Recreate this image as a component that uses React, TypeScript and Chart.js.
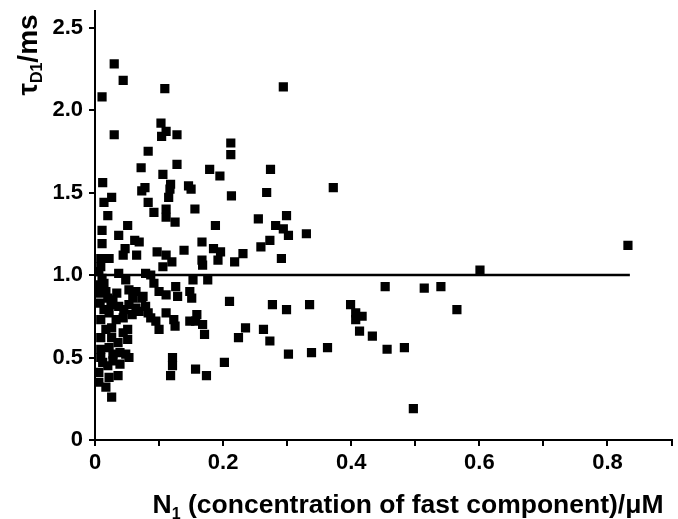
import React, { useEffect, useRef } from "react";
import { Chart, registerables } from "chart.js";

Chart.register(...registerables);

// N1 (µM) of each measurement
const N1_VALUES = [
  0.030, 0.044, 0.011, 0.109, 0.294, 0.030, 0.103, 0.111, 0.104, 0.128,
  0.083, 0.212, 0.212, 0.072, 0.128, 0.106, 0.179, 0.195, 0.274, 0.012,
  0.014, 0.026, 0.020, 0.078, 0.073, 0.083, 0.118, 0.117, 0.115, 0.146,
  0.150, 0.156, 0.213, 0.268, 0.372, 0.092, 0.111, 0.111, 0.125, 0.188,
  0.255, 0.299, 0.282, 0.294, 0.302, 0.330, 0.011, 0.011, 0.051, 0.037,
  0.047, 0.062, 0.065, 0.044, 0.167, 0.273, 0.259, 0.185, 0.196, 0.192,
  0.231, 0.218, 0.291, 0.167, 0.168, 0.009, 0.022, 0.097, 0.111, 0.120,
  0.139, 0.106, 0.832, 0.601, 0.009, 0.006, 0.011, 0.014, 0.017, 0.020,
  0.025, 0.005, 0.008, 0.037, 0.048, 0.053, 0.059, 0.034, 0.037, 0.045,
  0.053, 0.064, 0.069, 0.064, 0.075, 0.079, 0.087, 0.092, 0.100, 0.111,
  0.126, 0.129, 0.148, 0.151, 0.153, 0.176,
  0.079, 0.083, 0.087, 0.095, 0.100, 0.111, 0.123, 0.073,
  0.159, 0.157, 0.168, 0.171, 0.148, 0.210, 0.277, 0.335, 0.299, 0.235,
  0.224, 0.263, 0.273, 0.302, 0.338, 0.363, 0.202, 0.157, 0.174, 0.118,
  0.121, 0.121, 0.453, 0.514, 0.540, 0.399, 0.407, 0.407, 0.417, 0.565,
  0.413, 0.433, 0.456, 0.483, 0.497,
  0.009, 0.033, 0.044, 0.051, 0.009, 0.009, 0.009, 0.012, 0.026, 0.036,
  0.022, 0.028, 0.039, 0.048, 0.053, 0.051, 0.006, 0.006, 0.022, 0.036,
  0.017, 0.026, 0.020, 0.026, 0.017, 0.069, 0.028, 0.039, 0.044, 0.058,
  0.125, 0.008, 0.014, 0.022, 0.028,
];

// tauD1 (ms) of each measurement
const TAU_VALUES = [
  2.28, 2.18, 2.08, 2.13, 2.14, 1.85, 1.92, 1.87, 1.84, 1.85,
  1.75, 1.80, 1.73, 1.65, 1.67, 1.61, 1.64, 1.60, 1.64, 1.56,
  1.44, 1.47, 1.36, 1.53, 1.51, 1.44, 1.55, 1.52, 1.47, 1.54,
  1.52, 1.40, 1.48, 1.50, 1.53, 1.38, 1.40, 1.35, 1.32, 1.30,
  1.34, 1.36, 1.30, 1.28, 1.24, 1.25, 1.27, 1.19, 1.30, 1.24,
  1.16, 1.21, 1.12, 1.12, 1.20, 1.21, 1.17, 1.16, 1.14, 1.09,
  1.13, 1.08, 1.10, 1.09, 1.06, 1.10, 1.10, 1.14, 1.12, 1.08,
  1.15, 1.05, 1.18, 1.03, 1.05, 1.02, 0.98, 0.95, 0.90, 0.86,
  0.82, 0.94, 0.89, 1.01, 0.97, 0.91, 0.86, 0.89, 0.81, 0.79,
  0.82, 0.80, 0.78, 0.90, 0.87, 1.01, 1.00, 0.95, 0.90, 0.88,
  0.93, 0.87, 0.90, 0.86, 0.97, 0.97,
  0.81, 0.77, 0.74, 0.72, 0.67, 0.77, 0.73, 0.86,
  0.76, 0.72, 0.70, 0.64, 0.72, 0.84, 0.82, 0.82, 0.79, 0.68,
  0.62, 0.67, 0.60, 0.52, 0.53, 0.56, 0.47, 0.43, 0.39, 0.39,
  0.50, 0.45, 0.93, 0.92, 0.93, 0.82, 0.77, 0.73, 0.75, 0.79,
  0.66, 0.63, 0.55, 0.56, 0.19,
  0.73, 0.73, 0.74, 0.67, 0.62, 0.55, 0.50, 0.47, 0.62, 0.59,
  0.56, 0.52, 0.53, 0.52, 0.50, 0.61, 0.41, 0.35, 0.38, 0.39,
  0.32, 0.26, 0.45, 0.68, 0.67, 1.20, 0.48, 0.46, 0.65, 0.76,
  0.69, 0.83, 0.79, 0.77, 0.85,
];

// horizontal reference line
const LINE_X = [0, 0.835];
const LINE_Y = [1.0, 1.0];

// axes
const X_MIN = 0;
const X_MAX = 0.9;
const X_STEP = 0.1;
const X_LABELED_TICKS = ["0", "0.2", "0.4", "0.6", "0.8"];
const Y_MIN = 0;
const Y_MAX = 2.6;
const Y_STEP = 0.5;
const Y_TICK_LABELS = ["0", "0.5", "1.0", "1.5", "2.0", "2.5"];

// titles
const X_TITLE = ["N", "1", " (concentration of fast component)/\u03bcM"];
const Y_TITLE = ["\u03c4", "D1", "/ms"];

const FONT_FAMILY = "'Liberation Sans', Arial, Helvetica, sans-serif";

function drawSubTitle(
  ctx: CanvasRenderingContext2D,
  parts: string[],
  mainSize: number,
  subSize: number,
  subDrop: number
) {
  const mainFont = `bold ${mainSize}px ${FONT_FAMILY}`;
  const subFont = `bold ${subSize}px ${FONT_FAMILY}`;
  ctx.font = mainFont;
  const w0 = ctx.measureText(parts[0]).width;
  const w2 = ctx.measureText(parts[2]).width;
  ctx.font = subFont;
  const w1 = ctx.measureText(parts[1]).width;
  const total = w0 + w1 + w2;
  let x = -total / 2;
  ctx.font = mainFont;
  ctx.fillText(parts[0], x, 0);
  x += w0;
  ctx.font = subFont;
  ctx.fillText(parts[1], x, subDrop);
  x += w1;
  ctx.font = mainFont;
  ctx.fillText(parts[2], x, 0);
}

const titlePlugin = {
  id: "subTitles",
  afterDraw(chart: any) {
    const ctx: CanvasRenderingContext2D = chart.ctx;
    const area = chart.chartArea;
    ctx.save();
    ctx.fillStyle = "#000";
    ctx.textBaseline = "alphabetic";
    ctx.textAlign = "left";
    // x title
    ctx.save();
    ctx.translate(area.left + (area.right - area.left) * 0.543, 513);
    drawSubTitle(ctx, X_TITLE, 26.5, 16, 6);
    ctx.restore();
    // y title
    ctx.save();
    ctx.translate(37, 55);
    ctx.rotate(-Math.PI / 2);
    drawSubTitle(ctx, Y_TITLE, 28, 16, 5);
    ctx.restore();
    ctx.restore();
  },
};

export default function App() {
  const canvasRef = useRef<HTMLCanvasElement | null>(null);

  useEffect(() => {
    const canvas = canvasRef.current;
    if (!canvas) return;
    const points = N1_VALUES.map((x, i) => ({ x, y: TAU_VALUES[i] }));
    const linePts = LINE_X.map((x, i) => ({ x, y: LINE_Y[i] }));
    const tickFont = { family: FONT_FAMILY, size: 22, weight: "bold" as const };

    const chart = new Chart(canvas, {
      type: "scatter",
      data: {
        datasets: [
          {
            data: points,
            pointStyle: "rect",
            pointRadius: 6.5,
            pointHoverRadius: 6.5,
            backgroundColor: "#000",
            borderColor: "#000",
            borderWidth: 0,
          },
          {
            data: linePts,
            showLine: true,
            pointRadius: 0,
            borderColor: "#000",
            borderWidth: 2.5,
            fill: false,
          },
        ],
      },
      options: {
        responsive: false,
        animation: false,
        events: [],
        layout: { padding: { top: 11, right: 2, left: 0, bottom: 0 } },
        plugins: {
          legend: { display: false },
          tooltip: { enabled: false },
          title: { display: false },
        },
        scales: {
          x: {
            type: "linear",
            min: X_MIN,
            max: X_MAX,
            afterFit: (scale: any) => {
              scale.height = 79;
              scale.paddingLeft = 0;
              scale.paddingRight = 0;
            },
            border: { display: true, color: "#000", width: 2 },
            grid: {
              drawOnChartArea: false,
              drawTicks: true,
              tickLength: 6,
              color: "#000",
              lineWidth: 2,
            },
            ticks: {
              stepSize: X_STEP,
              includeBounds: false,
              autoSkip: false,
              maxRotation: 0,
              color: "#000",
              padding: 4,
              font: tickFont,
              callback: (value: any) => {
                const k = Math.round(Number(value) / X_STEP);
                return k % 2 === 0 ? X_LABELED_TICKS[k / 2] ?? "" : "";
              },
            },
          },
          y: {
            type: "linear",
            min: Y_MIN,
            max: Y_MAX,
            afterFit: (scale: any) => {
              scale.width = 95;
              scale.paddingTop = 0;
              scale.paddingBottom = 0;
            },
            border: { display: true, color: "#000", width: 2 },
            grid: {
              drawOnChartArea: false,
              drawTicks: true,
              tickLength: 6,
              color: "#000",
              lineWidth: 2,
            },
            ticks: {
              stepSize: Y_STEP,
              includeBounds: false,
              color: "#000",
              padding: 6,
              font: tickFont,
              callback: (value: any) => {
                const k = Math.round(Number(value) / Y_STEP);
                return Y_TICK_LABELS[k] ?? "";
              },
            },
          },
        },
      },
      plugins: [titlePlugin],
    });
    return () => chart.destroy();
  }, []);

  return (
    <div style={{ position: "absolute", left: 0, top: 0, width: 678, height: 519, background: "#fff" }}>
      <canvas ref={canvasRef} width={678} height={519} style={{ display: "block" }} />
    </div>
  );
}
